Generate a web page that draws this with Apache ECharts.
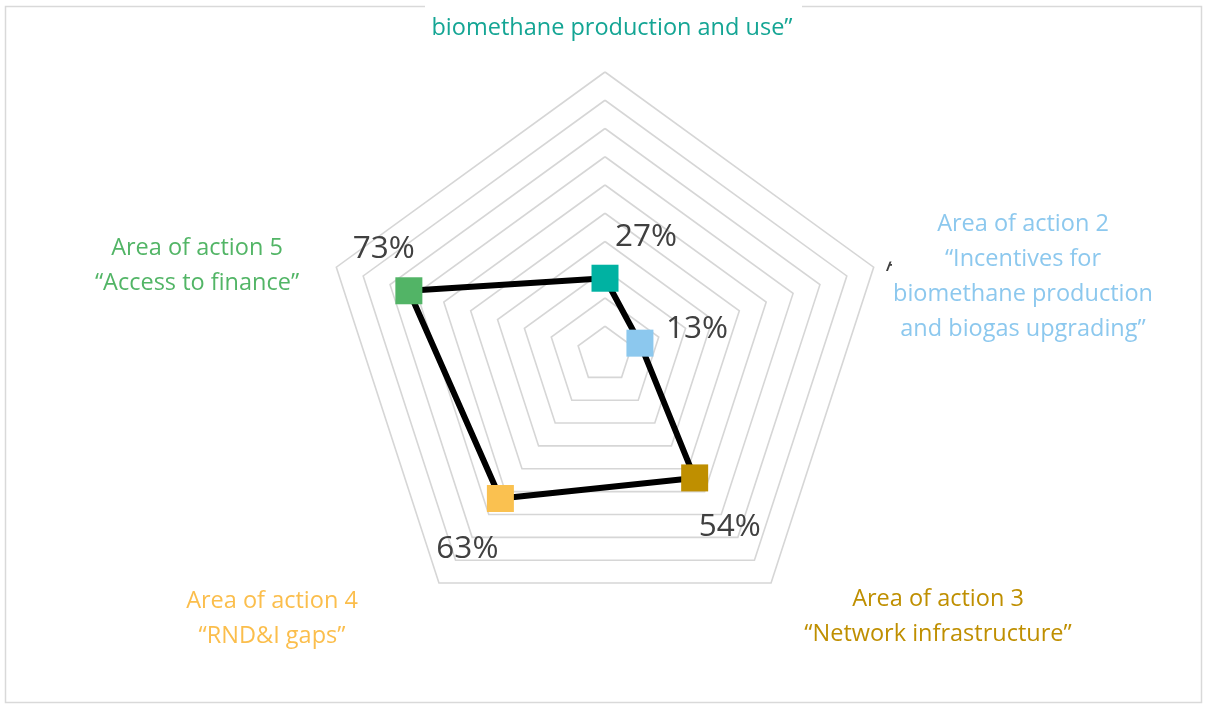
<!DOCTYPE html>
<html>
<head>
<meta charset="utf-8">
<title>Areas of action</title>
<script src="https://cdn.jsdelivr.net/npm/echarts@6/dist/echarts.min.js"></script>
<style>
  html, body { margin: 0; padding: 0; background: #ffffff; }
  #chart { width: 1208px; height: 705px; }
</style>
</head>
<body>
<div id="chart"></div>
<script>
// Share of each area of action (percent), clockwise from the top
const values = [27, 13, 54, 63, 73];

// Axis names, one entry of text lines per area
const areaLabelLines = [
  ['Area of action 1 \u201cSustainable', 'biomethane production and use\u201d'],
  ['Area of action 2', '\u201cIncentives for', 'biomethane production', 'and biogas upgrading\u201d'],
  ['Area of action 3', '\u201cNetwork infrastructure\u201d'],
  ['Area of action 4', '\u201cRND&I gaps\u201d'],
  ['Area of action 5', '\u201cAccess to finance\u201d']
];

// Colour for each area (marker and name)
const markerColors = ['#00B2A2', '#8CC8EE', '#BF8F00', '#FAC150', '#52B466'];
const nameColors = ['#14A594', '#8CC8EE', '#BF8F00', '#FBBE4C', '#52B566'];

const maxValue = 100;
const ringCount = 10;

// Layout
const CENTER = [605, 354.5];
const RADIUS = 282.5;
const FONT = '"Open Sans", Lato, sans-serif';
const namePos = [[612, 10], [1023, 276.5], [938, 617], [272, 619], [197, 266]];
const nameLineHeight = [37, 35, 35, 35, 35];
const valueLabelOffset = [[41, -41], [57, -14], [35, 49], [-33, 51], [-25, -42]];

const step = 360 / values.length;
const polygonData = values.map((v, i) => [v, i * step]);
polygonData.push([values[0], 360]);

const markerData = values.map((v, i) => ({
  value: [v, i * step],
  itemStyle: { color: markerColors[i], opacity: 1 },
  label: { offset: valueLabelOffset[i] }
}));

const graphics = [
  // chart frame
  { type: 'rect', z: 1, silent: true,
    shape: { x: 5.5, y: 6.5, width: 1196, height: 696 },
    style: { fill: 'none', stroke: '#D9D9D9', lineWidth: 1.5 } },
  // label backgrounds
  { type: 'rect', z: 20, silent: true,
    shape: { x: 425, y: 0, width: 377, height: 45 },
    style: { fill: '#ffffff' } },
  { type: 'rect', z: 20, silent: true,
    shape: { x: 778, y: 571, width: 320, height: 82 },
    style: { fill: '#ffffff' } },
  // partly hidden letter near the right vertex
  { type: 'text', z: 19, silent: true, x: 886, y: 264,
    style: { text: 'A', font: '23px ' + FONT, fill: '#404040',
             textAlign: 'left', textVerticalAlign: 'middle' } },
  { type: 'rect', z: 20, silent: true,
    shape: { x: 883, y: 240, width: 30, height: 21.5 },
    style: { fill: '#ffffff' } },
  { type: 'rect', z: 20, silent: true,
    shape: { x: 892, y: 240, width: 20, height: 60 },
    style: { fill: '#ffffff' } }
];

areaLabelLines.forEach((lines, i) => {
  graphics.push({
    type: 'text', z: 30, silent: true,
    x: namePos[i][0], y: namePos[i][1],
    style: {
      text: lines.join('\n'),
      font: '23.5px ' + FONT,
      lineHeight: nameLineHeight[i],
      fill: nameColors[i],
      textAlign: 'center',
      textVerticalAlign: 'middle'
    }
  });
});

const chart = echarts.init(document.getElementById('chart'), null, { renderer: 'canvas' });

chart.setOption({
  backgroundColor: '#ffffff',
  animation: false,
  radar: {
    center: CENTER,
    radius: RADIUS,
    shape: 'polygon',
    splitNumber: ringCount,
    indicator: values.map(() => ({ max: maxValue, min: 0 })),
    axisName: { show: false },
    axisLine: { show: false },
    axisTick: { show: false },
    axisLabel: { show: false },
    splitArea: { show: false },
    splitLine: { lineStyle: { color: '#D6D6D6', width: 1.6 } }
  },
  polar: { center: CENTER, radius: RADIUS },
  angleAxis: {
    type: 'value', min: 0, max: 360, startAngle: 90, clockwise: true,
    show: false
  },
  radiusAxis: { type: 'value', min: 0, max: maxValue, show: false },
  graphic: graphics,
  series: [
    {
      type: 'line',
      coordinateSystem: 'polar',
      data: polygonData,
      symbol: 'none',
      z: 5,
      lineStyle: { color: '#000000', width: 6, join: 'round' }
    },
    {
      type: 'scatter',
      coordinateSystem: 'polar',
      data: markerData,
      symbol: 'rect',
      symbolSize: 27,
      z: 6,
      itemStyle: { opacity: 1 },
      label: {
        show: true,
        position: 'inside',
        formatter: p => p.value[0] + '%',
        color: '#404040',
        fontFamily: FONT,
        fontSize: 31.5
      }
    }
  ]
});
</script>
</body>
</html>
